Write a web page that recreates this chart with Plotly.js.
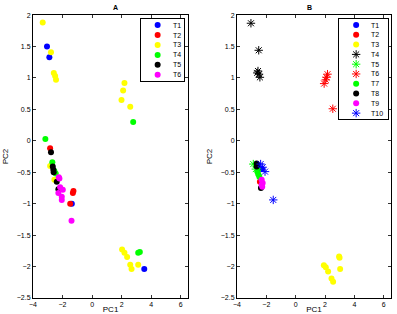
<!DOCTYPE html>
<html>
<head>
<meta charset="utf-8">
<script src="https://cdn.plot.ly/plotly-3.0.1.min.js"></script>
<style>
  html, body { margin: 0; padding: 0; background: #fff; }
  #chart { width: 397px; height: 314px; }
</style>
</head>
<body>
<div id="chart"></div>
<script>
// ---- Panel A: PC scores per group ----
const aNames = ["T1", "T2", "T3", "T4", "T5", "T6"];
const aColors = ["#0000ff", "#ff0000", "#ffff00", "#00ff00", "#000000", "#ff00ff"];
const aPC1 = [
  [-3.05, -2.89, -1.37, 3.53],
  [-2.84, -1.30, -1.26, -1.48],
  [-3.34, -2.78, -2.59, -2.50, -2.44, 2.19, 2.10, 1.99, 2.58, -2.84, -2.55, 2.03, 2.19, 2.37, 2.58, 2.67, 3.12],
  [-3.16, 2.78, -2.69, -2.55, -2.46, 3.12, 3.23],
  [-2.78, -2.66, -2.62, -2.60, -2.39, -2.28],
  [-2.21, -2.16, -1.98, -2.28, -2.05, -2.05, -1.39, -2.25]
];
const aPC2 = [
  [1.50, 1.33, -1.00, -2.04],
  [-0.12, -0.83, -0.80, -1.00],
  [1.88, 1.41, 1.08, 1.03, 0.97, 0.92, 0.80, 0.65, 0.54, -0.40, -0.62, -1.73, -1.78, -1.85, -1.97, -2.04, -1.97],
  [0.03, 0.30, -0.34, -0.48, -0.52, -1.78, -1.77],
  [-0.18, -0.41, -0.46, -0.50, -0.65, -0.77],
  [-0.60, -0.74, -0.78, -0.83, -0.89, -0.94, -1.27, -0.58]
];

// ---- Panel B: PC scores per group ----
const bNames = ["T1", "T2", "T3", "T4", "T5", "T6", "T7", "T8", "T9", "T10"];
const bColors = ["#0000ff", "#ff0000", "#ffff00", "#000000", "#00ff00", "#ff0000", "#00ff00", "#000000", "#ff00ff", "#0000ff"];
const bSymbols = ["dot", "dot", "dot", "star", "star", "star", "dot", "dot", "dot", "star"];
const bPC1 = [
  [-2.30],
  [-2.44],
  [1.92, 2.05, 2.21, 2.44, 2.55, 2.96, 2.99, 3.03],
  [-3.05, -2.52, -2.62, -2.57, -2.50, -2.44],
  [-2.89, -2.72],
  [2.17, 2.10, 2.05, 1.94, 2.53],
  [-2.62, -2.55, -2.48, -2.55],
  [-2.66, -2.66, -2.62, -2.37],
  [-2.32, -2.25, -2.32, -2.28],
  [-2.39, -2.25, -2.09, -1.53]
];
const bPC2 = [
  [-0.45],
  [-0.65],
  [-1.98, -2.01, -2.08, -2.19, -2.24, -1.84, -1.86, -2.04],
  [1.87, 1.44, 1.08, 1.11, 1.06, 1.01],
  [-0.37, -0.45],
  [1.06, 1.01, 0.97, 0.91, 0.51],
  [-0.49, -0.53, -0.57, -0.45],
  [-0.36, -0.41, -0.38, -0.75],
  [-0.62, -0.67, -0.70, -0.73],
  [-0.37, -0.42, -0.49, -0.94]
];

const FONT = "Liberation Sans, Arial, Helvetica, sans-serif";

function markerFor(color, sym) {
  if (sym === "star") {
    return { symbol: "asterisk-open", size: 7, color: color, line: { color: color, width: 1 } };
  }
  return { symbol: "circle", size: 6, color: color, line: { width: 0 } };
}

const traces = [];

aNames.forEach((n, i) => {
  traces.push({
    type: "scatter", mode: "markers", name: n,
    x: aPC1[i], y: aPC2[i], xaxis: "x", yaxis: "y",
    marker: markerFor(aColors[i], "dot"), showlegend: false, cliponaxis: false
  });
});
bNames.forEach((n, i) => {
  traces.push({
    type: "scatter", mode: "markers", name: n,
    x: bPC1[i], y: bPC2[i], xaxis: "x2", yaxis: "y2",
    marker: markerFor(bColors[i], bSymbols[i]), showlegend: false, cliponaxis: false
  });
});

// Boxed legends drawn on their own small axes, one row per group
const annotations = [];
function addLegend(names, colors, symbols, xa, ya, mx, tx) {
  names.forEach((n, i) => {
    traces.push({
      type: "scatter", mode: "markers", x: [mx], y: [i], xaxis: xa, yaxis: ya,
      marker: markerFor(colors[i], symbols[i]), showlegend: false, hoverinfo: "skip"
    });
    annotations.push({
      xref: xa, yref: ya, x: tx, y: i, text: n, showarrow: false,
      xanchor: "left", yanchor: "middle", font: { family: FONT, size: 7, color: "#000" }
    });
  });
}
addLegend(aNames, aColors, aNames.map(() => "dot"), "x3", "y3", 0.39, 0.70);
addLegend(bNames, bColors, bSymbols, "x4", "y4", 0.345, 0.62);

// Panel titles
annotations.push({ xref: "paper", yref: "paper", x: 0.2785, y: 0.995, yanchor: "top", text: "<b>A</b>",
  showarrow: false, font: { family: FONT, size: 7, color: "#000" } });
annotations.push({ xref: "paper", yref: "paper", x: 0.791, y: 0.995, yanchor: "top", text: "<b>B</b>",
  showarrow: false, font: { family: FONT, size: 7, color: "#000" } });

const tickFont = { family: FONT, size: 7, color: "#000" };
const titleFont = { family: FONT, size: 8, color: "#000" };
const yDom = [0.051, 0.952];

function xAx(dom, anchor) {
  return {
    domain: dom, anchor: anchor, range: [-4, 6.5], tickvals: [-4, -2, 0, 2, 4, 6],
    ticktext: ["\u22124", "\u22122", "0", "2", "4", "6"],
    ticks: "inside", ticklen: 3, tickwidth: 0.8, tickcolor: "#000",
    showline: true, linecolor: "#000", linewidth: 1, mirror: "ticks",
    showgrid: false, zeroline: false, tickfont: tickFont,
    title: { text: "PC1", font: titleFont, standoff: 5 }
  };
}
function yAx(anchor) {
  return {
    domain: yDom, anchor: anchor, range: [-2.5, 2], tickvals: [-2.5, -2, -1.5, -1, -0.5, 0, 0.5, 1, 1.5, 2],
    ticktext: ["\u22122.5", "\u22122", "\u22121.5", "\u22121", "\u22120.5", "0", "0.5", "1", "1.5", "2"],
    ticks: "inside", ticklen: 3, tickwidth: 0.8, tickcolor: "#000",
    showline: true, linecolor: "#000", linewidth: 1, mirror: "ticks",
    showgrid: false, zeroline: false, tickfont: tickFont,
    title: { text: "PC2", font: titleFont, standoff: 6 }
  };
}
function legAx(dom, anchor, range) {
  return {
    domain: dom, anchor: anchor, range: range, showline: true, linecolor: "#000", linewidth: 1,
    mirror: true, showticklabels: false, ticks: "", showgrid: false, zeroline: false, fixedrange: true
  };
}

const layout = {
  width: 397, height: 314,
  margin: { l: 0, r: 0, t: 0, b: 0 },
  paper_bgcolor: "#fff", plot_bgcolor: "#fff",
  showlegend: false,
  xaxis: xAx([0.083, 0.474], "y"),
  yaxis: yAx("x"),
  xaxis2: xAx([0.597, 0.985], "y2"),
  yaxis2: yAx("x2"),
  xaxis3: legAx([0.355, 0.463], "y3", [0, 1]),
  yaxis3: legAx([0.743, 0.939], "x3", [5.6, -0.6]),
  xaxis4: legAx([0.855, 0.977], "y4", [0, 1]),
  yaxis4: legAx([0.621, 0.939], "x4", [9.6, -0.6]),
  annotations: annotations
};
layout.yaxis3.autorange = false;
layout.yaxis4.autorange = false;

Plotly.newPlot("chart", traces, layout, { displayModeBar: false, staticPlot: true });
</script>
</body>
</html>
